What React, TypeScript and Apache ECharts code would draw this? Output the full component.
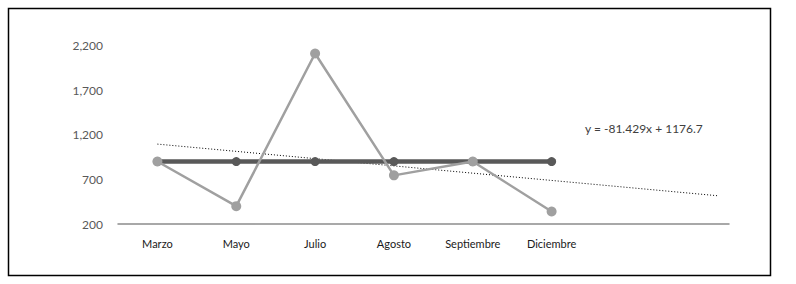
import React, { useEffect, useRef } from "react";
import * as echarts from "echarts";

const categories = ["Marzo", "Mayo", "Julio", "Agosto", "Septiembre", "Diciembre"];
const seriesFlat = [900, 900, 900, 900, 900, 900];
const seriesValues = [900, 400, 2110, 745, 900, 340];
const trendSlope = -81.429;
const trendIntercept = 1176.7;
const trendX = [1, 8.1];
const trendLabel = "y = -81.429x + 1176.7";
const yTicks = [200, 700, 1200, 1700, 2200];

export default function App() {
  const ref = useRef<HTMLDivElement>(null);
  useEffect(() => {
    if (!ref.current) return;
    const chart = echarts.init(ref.current, undefined, { renderer: "svg" });
    const font = "Lato, 'Open Sans', sans-serif";
    const trendData = trendX.map((x) => [x, trendSlope * x + trendIntercept]);
    chart.setOption({
      animation: false,
      backgroundColor: "#ffffff",
      grid: { left: 118, right: 67, top: 45.5, bottom: 60, containLabel: false },
      xAxis: {
        type: "value",
        min: 0.5,
        max: 8.25,
        interval: 0.5,
        axisLine: { show: true, onZero: false, lineStyle: { color: "#8c8c8c", width: 1.5 } },
        axisTick: { show: false },
        splitLine: { show: false },
        axisLabel: {
          margin: 14,
          color: "#1a1a1a",
          fontFamily: font,
          fontSize: 11,
          showMinLabel: true,
          showMaxLabel: false,
          formatter: (v: number) => {
            const i = Math.round(v);
            if (Math.abs(v - i) < 1e-6 && i >= 1 && i <= categories.length) return categories[i - 1];
            return "";
          },
        },
      },
      yAxis: {
        type: "value",
        min: yTicks[0],
        max: yTicks[yTicks.length - 1],
        interval: 100,
        axisLine: { show: false },
        axisTick: { show: false },
        splitLine: { show: false },
        axisLabel: {
          margin: 15,
          color: "#595959",
          fontFamily: font,
          fontSize: 12,
          formatter: (v: number) => {
            const r = Math.round(v);
            if (yTicks.indexOf(r) >= 0) return r.toLocaleString("en-US");
            return "";
          },
        },
      },
      series: [
        {
          type: "line",
          data: trendData,
          symbol: "none",
          lineStyle: { color: "#000000", width: 1, type: [1, 2] },
          z: 1,
        },
        {
          type: "line",
          data: seriesFlat.map((v, i) => [i + 1, v]),
          symbol: "circle",
          symbolSize: 9,
          itemStyle: { color: "#595959" },
          lineStyle: { color: "#595959", width: 4.5 },
          z: 2,
        },
        {
          type: "line",
          data: seriesValues.map((v, i) => [i + 1, v]),
          symbol: "circle",
          symbolSize: 10,
          itemStyle: { color: "#a0a0a0" },
          lineStyle: { color: "#a0a0a0", width: 2.5 },
          z: 3,
        },
      ],
      graphic: [
        {
          type: "rect",
          shape: { x: 8.5, y: 8.5, width: 762, height: 267 },
          style: { fill: "none", stroke: "#000000", lineWidth: 1.5 },
          silent: true,
        },
        {
          type: "text",
          left: 585,
          top: 122,
          style: { text: trendLabel, fill: "#404040", font: `12px ${font}` },
        },
      ],
    });
    return () => chart.dispose();
  }, []);
  return (
    <div
      ref={ref}
      style={{ position: "fixed", left: 0, top: 0, width: 796, height: 284 }}
    />
  );
}
